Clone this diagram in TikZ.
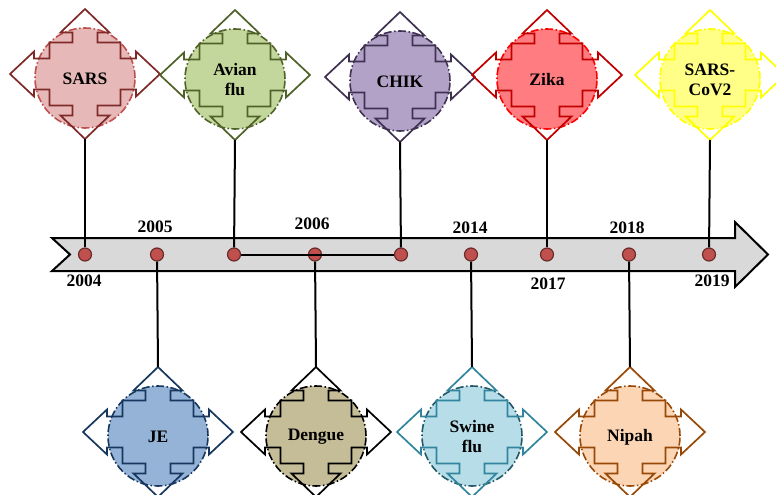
\documentclass[tikz,border=0pt]{standalone}
\usepackage{fontspec}
\setmainfont{Liberation Serif}

% badge colours: line, fill and ring
\definecolor{sarsline}{HTML}{7F2A28}\definecolor{sarsfill}{HTML}{E6B9B8}\definecolor{sarsring}{HTML}{C0504D}
\definecolor{avianline}{HTML}{4F6228}\definecolor{avianfill}{HTML}{C3D69B}\definecolor{avianring}{HTML}{4F6228}
\definecolor{chikline}{HTML}{3F3151}\definecolor{chikfill}{HTML}{B3A2C7}\definecolor{chikring}{HTML}{3F3151}
\definecolor{zikaline}{HTML}{C00000}\definecolor{zikafill}{HTML}{FF7C80}\definecolor{zikaring}{HTML}{FF0000}
\definecolor{covline}{HTML}{FFFF00}\definecolor{covfill}{HTML}{FFFF88}\definecolor{covring}{HTML}{FFFF00}
\definecolor{jeline}{HTML}{17375E}\definecolor{jefill}{HTML}{95B3D7}\definecolor{jering}{HTML}{17375E}
\definecolor{dengueline}{HTML}{000000}\definecolor{denguefill}{HTML}{C4BD97}\definecolor{denguering}{HTML}{000000}
\definecolor{swineline}{HTML}{31859C}\definecolor{swinefill}{HTML}{B7DEE8}\definecolor{swinering}{HTML}{215968}
\definecolor{nipahline}{HTML}{984807}\definecolor{nipahfill}{HTML}{FCD5B5}\definecolor{nipahring}{HTML}{984807}
\definecolor{dotred}{HTML}{C0504D}
\definecolor{bargray}{HTML}{D9D9D9}

\tikzset{
  dot/.style={circle,fill=dotred,draw=dotred!55!black,line width=1.2pt,inner sep=0pt,minimum size=13pt},
  year/.style={font=\bfseries\fontsize{17.5}{19}\selectfont,inner sep=0pt},
  tag/.style={font=\bfseries\fontsize{17.5}{20}\selectfont,align=center,inner sep=0pt},
  link/.style={line width=2pt},
  pics/badge/.style={code={
    % filled ring behind the arrows
    \fill[#1fill] (0,4) circle[radius=50pt];
    \draw[#1ring,line width=1.6pt,dash pattern=on 8pt off 2.5pt on 1.5pt off 2.5pt] (0,4) circle[radius=50pt];
    % four-way arrow outline
    \draw[#1line,line width=1.7pt,line join=miter]
      (0,-65) -- (24.5,-41.5) -- (12.5,-41.5) -- (12.5,-31.5) -- (35.5,-31.5) -- (35.5,-15.5)
      -- (51,-15.5) -- (51,-22.5) -- (75,0) -- (51,22.5) -- (51,15.5) -- (35.5,15.5)
      -- (35.5,31.5) -- (12.5,31.5) -- (12.5,41.5) -- (24.5,41.5) -- (0,65) -- (-24.5,41.5)
      -- (-12.5,41.5) -- (-12.5,31.5) -- (-35.5,31.5) -- (-35.5,15.5) -- (-51,15.5) -- (-51,22.5)
      -- (-75,0) -- (-51,-22.5) -- (-51,-15.5) -- (-35.5,-15.5) -- (-35.5,-31.5) -- (-12.5,-31.5)
      -- (-12.5,-41.5) -- (-24.5,-41.5) -- cycle;
    \coordinate (-n) at (0,-65);
    \coordinate (-s) at (0,65);
  }}
}

\begin{document}
\begin{tikzpicture}[x=1pt,y=-1pt]
        \useasboundingbox (0,0) rectangle (776,495);

        % draw the time bar
        \draw[fill=bargray,line width=2pt,line join=miter]
          (52,238) -- (735,238) -- (735,222) -- (768,254.5) -- (735,287) -- (735,271) -- (52,271) -- (70,254.5) -- cycle;

        % draw the badges above and below the bar
        \foreach \n/\x/\y/\txt in {
            sars/85/74/SARS,
            avian/235/75/{Avian\\flu},
            chik/400/77/CHIK,
            zika/547/75/Zika,
            cov/710/75/{SARS-\\CoV2},
            je/158/432/JE,
            dengue/316/432/Dengue,
            swine/472/432/{Swine\\flu},
            nipah/630/432/Nipah} {
                \pic (\n) at (\x,\y) {badge=\n};
                \node[tag] (\n) at (\x,\y+5) {\txt};
        }

        % dots on the bar
        \foreach \i/\x in {1/85,2/157,3/234,4/315,5/401,6/471,7/547,8/629,9/709}
                \node[dot] (d\i) at (\x,254.5) {};

        % years
        \foreach \yr/\x/\y in {2004/84/281,2005/155/227,2006/312/224,2014/470/228,
                               2017/548/284,2018/627/228,2019/712/281}
                \node[year] (y\yr) at (\x,\y) {\yr};

        % links from badges to dots
        \draw[link] (sars-s) -- (d1);
        \draw[link] (avian-s) -- (d3);
        \draw[link] (chik-s) -- (d5);
        \draw[link] (zika-s) -- (d7);
        \draw[link] (cov-s) -- (d9);
        \draw[link] (d2) -- (je-n);
        \draw[link] (d4) -- (dengue-n);
        \draw[link] (d6) -- (swine-n);
        \draw[link] (d8) -- (nipah-n);
        \draw[link] (d3) -- (d5);
\end{tikzpicture}
\end{document}
